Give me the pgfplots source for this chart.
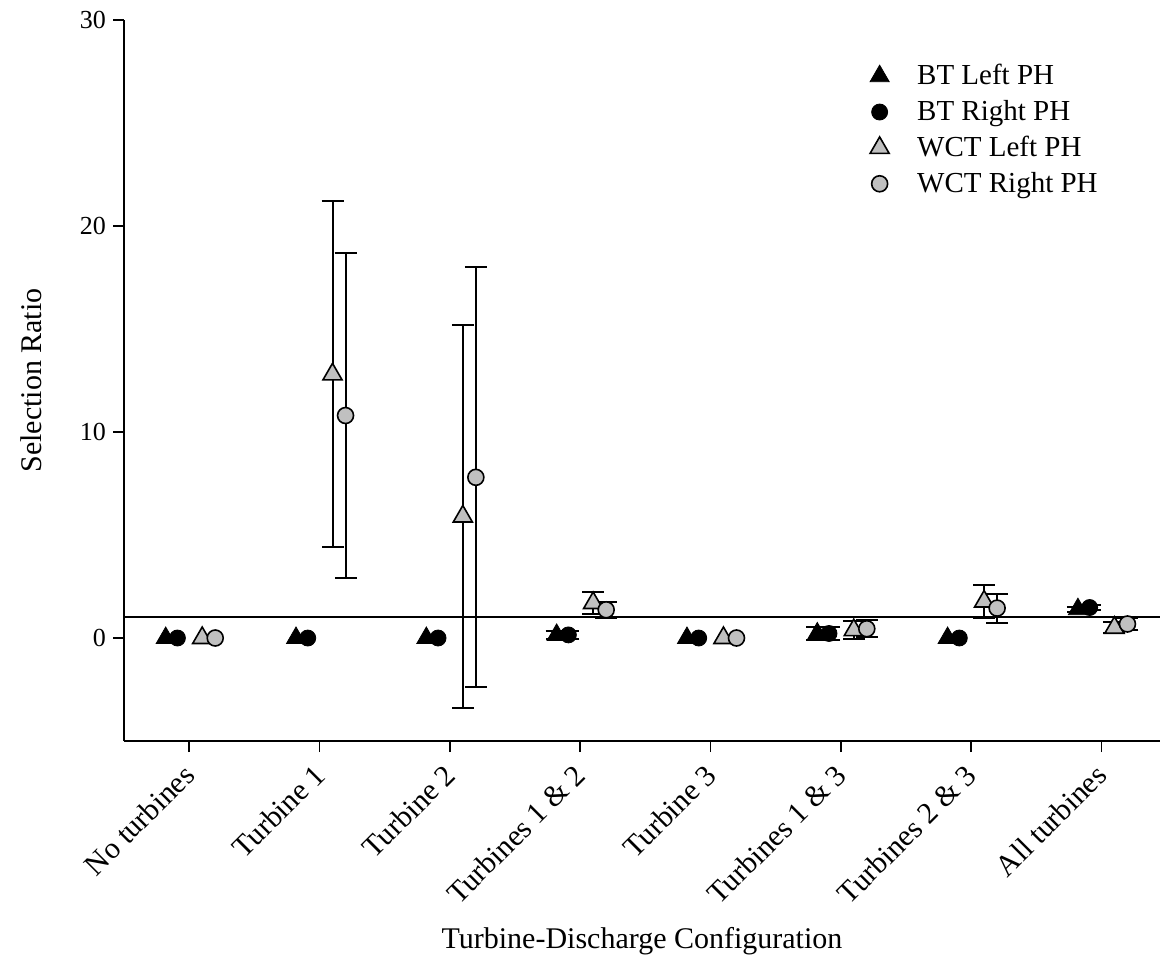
\documentclass[border=0pt]{standalone}
\usepackage{fontspec}
\setmainfont{Liberation Serif}
\usepackage{pgfplots}
\usepackage{pgfplotstable}
\pgfplotsset{compat=1.18}

\definecolor{markgray}{RGB}{192,192,192}

% x = category index + offset, y = mean, e = error (0 = no bar)
\pgfplotstableread{
x y e
-0.18 0 0
0.82 0 0
1.82 0 0
2.82 0.15 0.2
3.82 0 0
4.82 0.22 0.3
5.82 0 0
6.82 1.4 0.12
}\btleft
\pgfplotstableread{
x y e
-0.09 0 0
0.91 0 0
1.91 0 0
2.91 0.15 0.2
3.91 0 0
4.91 0.22 0.3
5.91 0 0
6.91 1.48 0.1
}\btright
\pgfplotstableread{
x y e
0.10 0 0
1.10 12.8 8.4
2.10 5.9 9.3
3.10 1.7 0.55
4.10 0 0
5.10 0.38 0.45
6.10 1.77 0.8
7.10 0.5 0.27
}\wctleft
\pgfplotstableread{
x y e
0.20 0 0
1.20 10.8 7.9
2.20 7.8 10.2
3.20 1.37 0.4
4.20 0 0
5.20 0.45 0.4
6.20 1.45 0.7
7.20 0.68 0.3
}\wctright

\pgfplotsset{
  ebar/.style={forget plot, only marks, mark=none,
    error bars/.cd, y dir=both, y explicit, error mark=|,
    error bar style={draw=black, line width=1pt},
    error mark options={draw=black, mark size=5.5pt, line width=1pt}},
}

\begin{document}
\begin{tikzpicture}
\begin{axis}[
  scale only axis,
  width=518pt, height=360.5pt,
  xmin=-0.5, xmax=7.45,
  ymin=-5, ymax=30,
  axis x line*=bottom, axis y line*=left,
  axis line style={line width=1pt},
  clip=false,
  xtick={0,1,...,7},
  xticklabels={No turbines,Turbine 1,Turbine 2,Turbines 1 \& 2,Turbine 3,Turbines 1 \& 3,Turbines 2 \& 3,All turbines},
  x tick label style={rotate=45, anchor=north east, xshift=-2.9pt, yshift=2.4pt,
    font=\fontsize{15}{18}\selectfont},
  ytick={0,10,20,30},
  y tick label style={font=\fontsize{13}{15}\selectfont},
  /pgf/number format/assume math mode=true,
  tick align=outside,
  major tick length=5.5pt,
  tick style={line width=0.8pt, black},
  xlabel={Turbine-Discharge Configuration},
  ylabel={Selection Ratio},
  label style={font=\fontsize{15}{18}\selectfont},
  xlabel style={at={(axis description cs:0.5,-0.277)}, anchor=center},
  ylabel style={at={(axis description cs:-0.09,0.5)}, anchor=center},
  legend style={at={(axis description cs:0.714,0.95)}, anchor=north west,
    draw=none, fill=none, font=\fontsize{14.5}{17}\selectfont, row sep=2.3pt,
    /tikz/every odd column/.append style={column sep=12pt}},
  legend cell align=left,
]
% reference line at 1
\addplot[black, line width=1pt, forget plot] coordinates {(-0.5,1) (7.45,1)};
% error bars (drawn under the symbols)
\addplot[ebar] table[x=x, y=y, y error=e, restrict expr to domain={\thisrow{e}}{0.001:100}] {\btleft};
\addplot[ebar] table[x=x, y=y, y error=e, restrict expr to domain={\thisrow{e}}{0.001:100}] {\btright};
\addplot[ebar] table[x=x, y=y, y error=e, restrict expr to domain={\thisrow{e}}{0.001:100}] {\wctleft};
\addplot[ebar] table[x=x, y=y, y error=e, restrict expr to domain={\thisrow{e}}{0.001:100}] {\wctright};
% symbols
\addplot[only marks, mark=triangle*, mark size=5.5pt, black, mark options={fill=black}]
  table[x=x, y=y] {\btleft};
\addlegendentry{BT Left PH}
\addplot[only marks, mark=*, mark size=4pt, black, mark options={fill=black}]
  table[x=x, y=y] {\btright};
\addlegendentry{BT Right PH}
\addplot[only marks, mark=triangle*, mark size=5.5pt, black, mark options={fill=markgray, line width=0.8pt}]
  table[x=x, y=y] {\wctleft};
\addlegendentry{WCT Left PH}
\addplot[only marks, mark=*, mark size=4pt, black, mark options={fill=markgray, line width=0.8pt}]
  table[x=x, y=y] {\wctright};
\addlegendentry{WCT Right PH}
\coordinate (bl) at (axis description cs:0,0);
\coordinate (tr) at (axis description cs:1,1);
\end{axis}
\path (bl) ++(-62pt,-108pt) (tr) ++(1pt,10pt);
\end{tikzpicture}
\end{document}
